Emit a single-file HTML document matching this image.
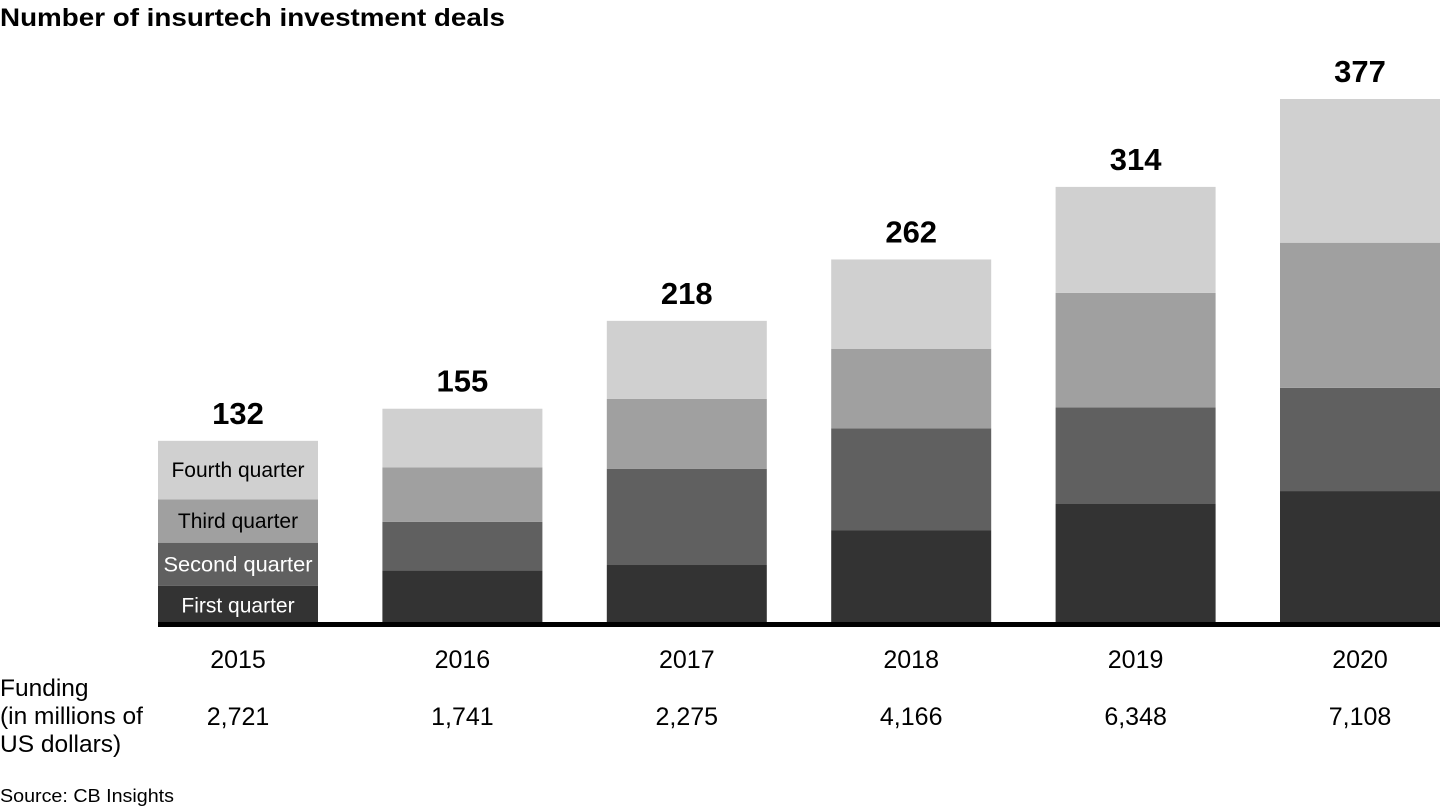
<!DOCTYPE html>
<html><head><meta charset="utf-8"><style>
body{margin:0;width:1440px;height:810px;background:#fff;font-family:"Liberation Sans",Arial,sans-serif;overflow:hidden}
svg{position:absolute;left:0;top:0}
</style></head><body>
<svg width="1440" height="810">
<text x="0" y="26" font-size="25" font-weight="bold" fill="#000" textLength="505" lengthAdjust="spacingAndGlyphs">Number of insurtech investment deals</text>
<g id="bars"></g>
<text x="0" y="696" font-size="24.5" fill="#000"><tspan x="0">Funding</tspan><tspan x="0" dy="28">(in millions of</tspan><tspan x="0" dy="28">US dollars)</tspan></text>
<text x="0" y="802" font-size="18" fill="#000" textLength="174" lengthAdjust="spacingAndGlyphs">Source: CB Insights</text>
</svg>
<script>
const years=["2015","2016","2017","2018","2019","2020"];
const q1=[28,39,43,68,87,96];
const q2=[31,35,69,73,69,74];
const q3=[31,39,50,57,82,104];
const q4=[42,42,56,64,76,103];
const totals=["132","155","218","262","314","377"];
const funding=["2,721","1,741","2,275","4,166","6,348","7,108"];
const seriesNames=["First quarter","Second quarter","Third quarter","Fourth quarter"];
const colors=["#333333","#606060","#a0a0a0","#d0d0d0"];
const NS="http://www.w3.org/2000/svg";
const g=document.getElementById('bars');
const base=625, scale=(625-99)/377, x0=158, step=224.4, bw=160;
const xOf=i=>x0+i*step;
const yOf=v=>base-v*scale;
function mk(t,a){const e=document.createElementNS(NS,t);for(const k in a)e.setAttribute(k,a[k]);g.appendChild(e);return e;}
const series=[q1,q2,q3,q4];
years.forEach((yr,i)=>{
  let cum=0;
  series.forEach((s,j)=>{
    const r=mk('rect',{x:xOf(i),y:yOf(cum+s[i]),width:bw,height:s[i]*scale,fill:colors[j]});
    
    
    if(i===0){
      const t=mk('text',{x:xOf(i)+bw/2,y:yOf(cum+s[i]/2)+7,'font-size':21,'text-anchor':'middle',fill:j<2?'#fff':'#000'});
      t.textContent=seriesNames[j];
      if(j===1){t.setAttribute('textLength','149');t.setAttribute('lengthAdjust','spacingAndGlyphs');}
      
      
    }
    cum+=s[i];
  });
  const tt=mk('text',{x:xOf(i)+bw/2,y:yOf(cum)-17,'font-size':31,'font-weight':'bold','text-anchor':'middle',fill:'#000'});
  tt.textContent=totals[i];
  
  
  const yl=mk('text',{x:xOf(i)+bw/2,y:668,'font-size':25,'text-anchor':'middle',fill:'#000'});
  yl.textContent=yr;
  
  
  const fl=mk('text',{x:xOf(i)+bw/2,y:725,'font-size':25,'text-anchor':'middle',fill:'#000'});
  fl.textContent=funding[i];
  
  
});
const ax=mk('rect',{x:158,y:622,width:1282,height:5,fill:'#000'});


</script>
</body></html>
